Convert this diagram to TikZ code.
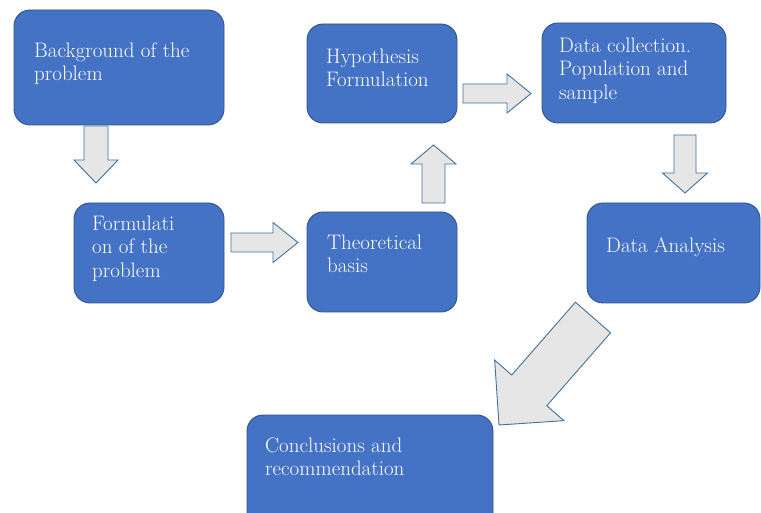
\documentclass[tikz,border=0pt]{standalone}
\usetikzlibrary{calc}
\definecolor{boxblue}{HTML}{4472C4}
\definecolor{boxedge}{HTML}{2F528F}
\definecolor{arrfill}{HTML}{E7E6E6}
\definecolor{arredge}{HTML}{41719C}
\tikzset{
  box/.style={draw=boxedge, fill=boxblue, line width=0.9pt, rounded corners=16pt},
  lbl/.style={text=white, anchor=north west, inner sep=0pt, align=left,
    font=\fontsize{21}{23.5}\selectfont},
  blockarrow/.style={draw=arredge, fill=arrfill, line width=0.9pt, line join=miter}
}
% tail, tip, shaft half width, head half width, head length
\newcommand\barrow[5]{%
  \path ($(#2)!#5!(#1)$) coordinate (tmpH);
  \draw[blockarrow] ($(#1)!#3!90:(#2)$) -- ($(tmpH)!#3!90:(#2)$) -- ($(tmpH)!#4!90:(#2)$)
    -- (#2) -- ($(tmpH)!#4!-90:(#2)$) -- ($(tmpH)!#3!-90:(#2)$) -- ($(#1)!#3!-90:(#2)$) -- cycle;
}
\begin{document}
\begin{tikzpicture}[x=1pt,y=-1pt]
\useasboundingbox (0,0) rectangle (761,513);
\fill[white] (0,0) rectangle (761,513);
% boxes
\draw[box] (14,10) rectangle (224,125);
\draw[box] (74,203) rectangle (224,303);
\draw[box] (307,212) rectangle (457,312);
\draw[box] (307,24) rectangle (457,123);
\draw[box] (542,23) rectangle (726,123);
\draw[box] (587,203) rectangle (760,303);
\draw[box] (247,415) rectangle (493,530);
% labels
\node[lbl] (bg) at (34,42.4) {Background of the\\problem};
\node[lbl] (form) at (92,215.4) {Formulati\\on of the\\problem};
\node[lbl] (theo) at (327,234.4) {Theoretical\\basis};
\node[lbl] (hyp) at (326,48.4) {Hypothesis\\Formulation};
\node[lbl] (dc) at (559,37.4) {Data collection.\\Population and\\sample};
\node[lbl] (da) at (606,237.4) {Data Analysis};
\node[lbl] (conc) at (265,437.4) {Conclusions and\\recommendation};
% arrows
\coordinate (a1s) at (96,126);   \coordinate (a1e) at (96,183);
\coordinate (a2s) at (231,242.5); \coordinate (a2e) at (298,242.5);
\coordinate (a3s) at (433.5,203); \coordinate (a3e) at (433.5,145);
\coordinate (a4s) at (463,93.5);  \coordinate (a4e) at (531,93.5);
\coordinate (a5s) at (685,135);   \coordinate (a5e) at (685,193);
\coordinate (a6s) at (593,317.5); \coordinate (a6e) at (499,425);
\barrow{a1s}{a1e}{12pt}{22pt}{23pt}
\barrow{a2s}{a2e}{9.5pt}{20pt}{25pt}
\barrow{a3s}{a3e}{11.5pt}{22.5pt}{19pt}
\barrow{a4s}{a4e}{9.5pt}{19.5pt}{24pt}
\barrow{a5s}{a5e}{11pt}{22.5pt}{20pt}
\barrow{a6s}{a6e}{23.3pt}{46pt}{46pt}
\end{tikzpicture}
\end{document}
